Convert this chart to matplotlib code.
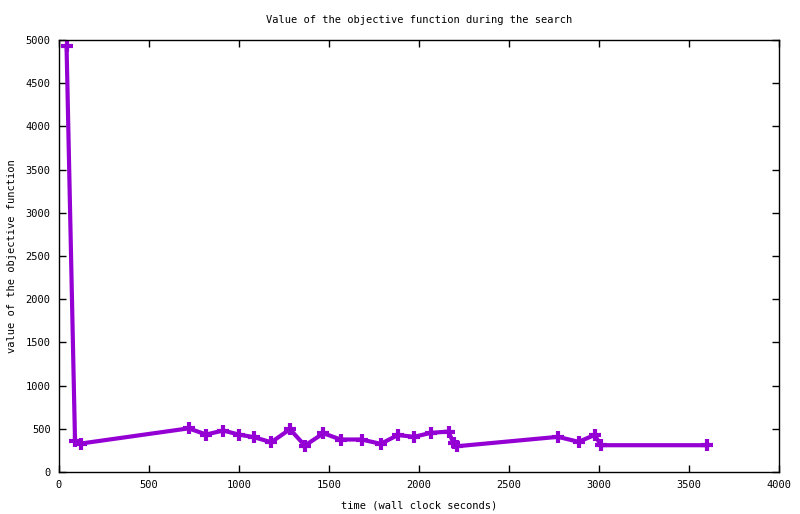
import matplotlib
matplotlib.use('Agg')
import matplotlib.pyplot as plt

# search trace: wall clock seconds vs objective value
times = [42, 89, 120, 720, 818, 912, 998, 1085, 1179, 1283, 1366, 1469,
         1565, 1681, 1787, 1883, 1972, 2066, 2164, 2192, 2210, 2772, 2887,
         2975, 3012, 3600]
values = [4925, 356, 329, 505, 434, 480, 434, 402, 344, 495, 306, 448,
          376, 376, 326, 428, 407, 453, 468, 330, 298, 407, 349, 428, 310, 310]

plt.rcParams['font.family'] = 'DejaVu Sans Mono'
plt.rcParams['font.size'] = 7.5

fig = plt.figure(figsize=(8.0, 5.14), dpi=100)
ax = fig.add_axes([59 / 800, 42 / 514, 720 / 800, 432 / 514])

ax.plot(times, values, color='#9400d3', lw=3, marker='+', ms=8, mew=3)

ax.set_xlim(0, 4000)
ax.set_ylim(0, 5000)
ax.set_xticks(range(0, 4001, 500))
ax.set_yticks(range(0, 5001, 500))
ax.tick_params(direction='in', top=True, right=True, length=5, width=1, pad=6)
for s in ax.spines.values():
    s.set_linewidth(1)

ax.set_title('Value of the objective function during the search',
             fontsize=7.5, pad=12)
ax.set_xlabel('time (wall clock seconds)', labelpad=7)
ax.set_ylabel('value of the objective function', labelpad=6)

fig.savefig('out.png', dpi=100)
